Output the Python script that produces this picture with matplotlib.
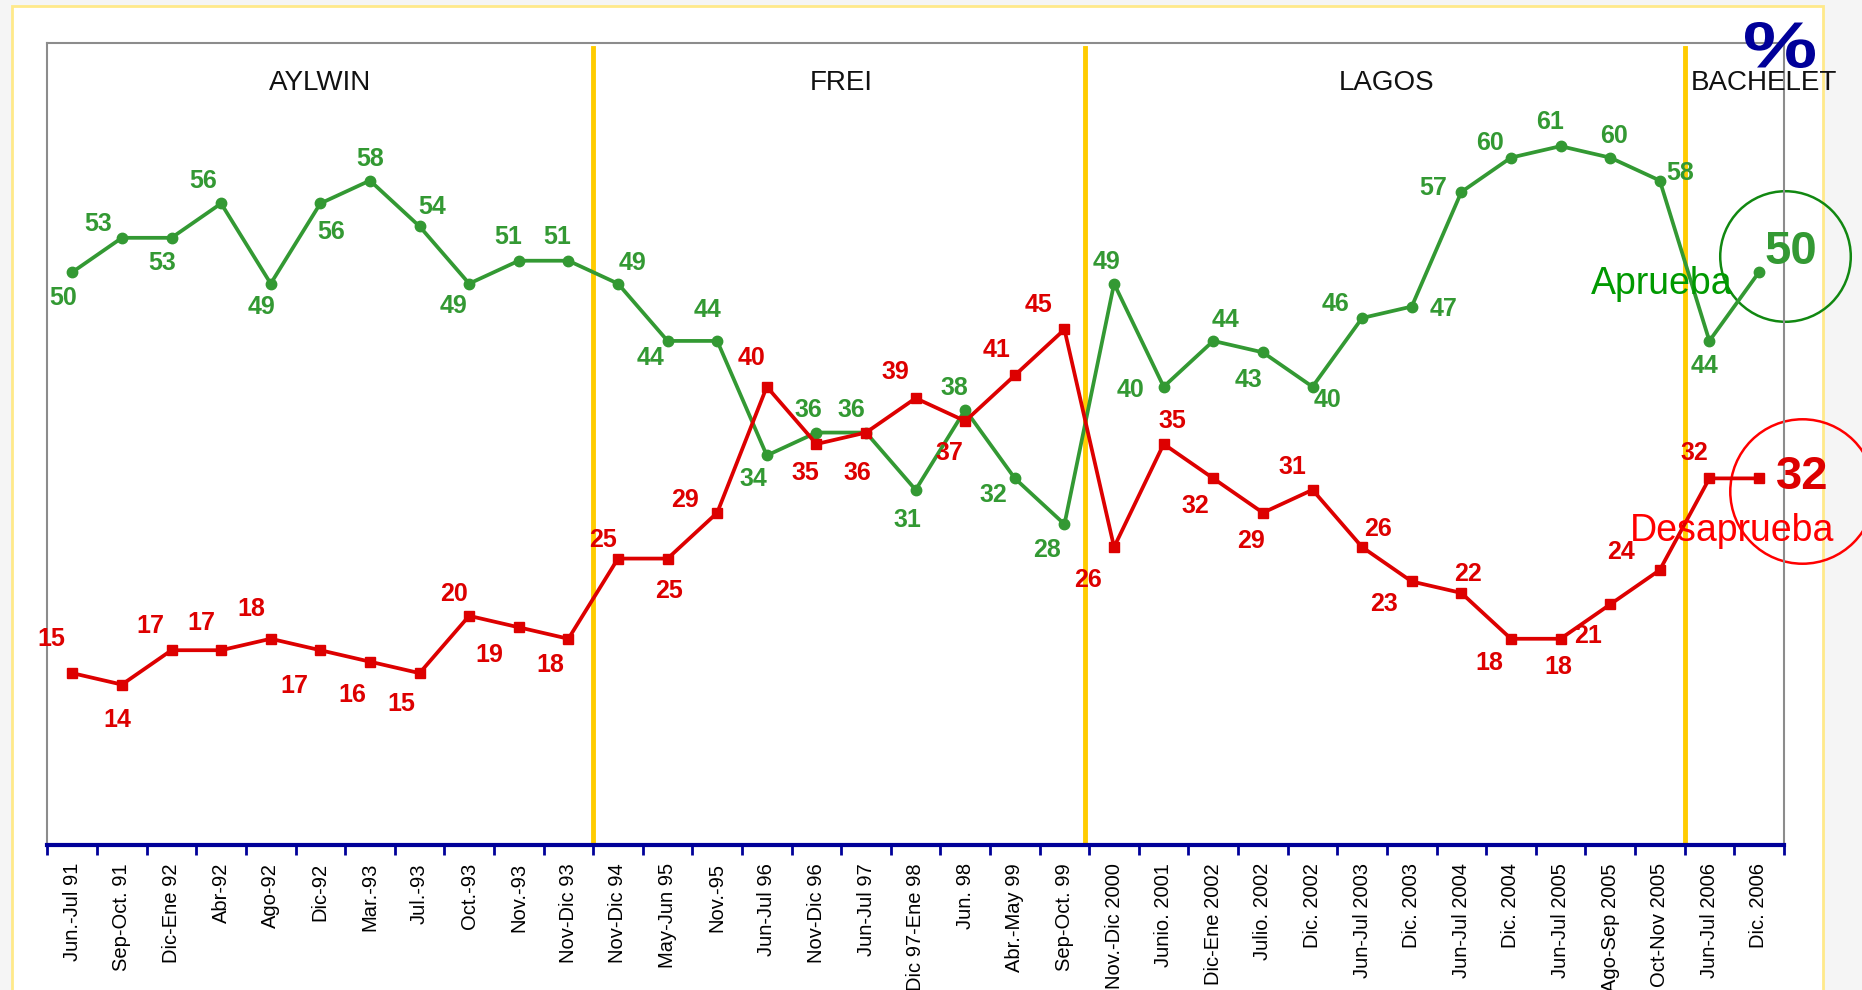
import matplotlib
matplotlib.use("Agg")
import matplotlib.pyplot as plt
from matplotlib.patches import Rectangle, PathPatch
from matplotlib.textpath import TextPath
from matplotlib.font_manager import FontProperties
from matplotlib import transforms
import numpy as np

plt.rcParams['font.family'] = ['Liberation Sans', 'DejaVu Sans']

# survey periods
periods = ["Jun.-Jul 91", "Sep-Oct. 91", "Dic-Ene 92", "Abr-92", "Ago-92", "Dic-92",
           "Mar.-93", "Jul.-93", "Oct.-93", "Nov.-93", "Nov-Dic 93", "Nov-Dic 94",
           "May-Jun 95", "Nov.-95", "Jun-Jul 96", "Nov-Dic 96", "Jun-Jul 97",
           "Dic 97-Ene 98", "Jun. 98", "Abr.-May 99", "Sep-Oct. 99", "Nov.-Dic 2000",
           "Junio. 2001", "Dic-Ene 2002", "Julio. 2002", "Dic. 2002", "Jun-Jul 2003",
           "Dic. 2003", "Jun-Jul 2004", "Dic. 2004", "Jun-Jul 2005", "Ago-Sep 2005",
           "Oct-Nov 2005", "Jun-Jul 2006", "Dic. 2006"]

aprueba = [50, 53, 53, 56, 49, 56, 58, 54, 49, 51, 51, 49, 44, 44, 34, 36, 36, 31, 38,
           32, 28, 49, 40, 44, 43, 40, 46, 47, 57, 60, 61, 60, 58, 44, 50]
desaprueba = [15, 14, 17, 17, 18, 17, 16, 15, 20, 19, 18, 25, 25, 29, 40, 35, 36, 39, 37,
              41, 45, 26, 35, 32, 29, 31, 26, 23, 22, 18, 18, 21, 24, 32, 32]

# presidencies: name and index of first period
gobiernos = ["AYLWIN", "FREI", "LAGOS", "BACHELET"]
inicio_gobierno = [0, 11, 21, 33]

# label offsets (pixels, dx, dy up) for the value labels
off_verde = [(-8, -22), (-20, 12), (-8, -21), (-15, 19), (-8, -20), (9, -24), (0, 18),
             (11, 16), (-13, -19), (-9, 20), (-9, 20), (12, 17), (-14, -14), (-8, 26),
             (-11, -20), (-7, 19), (-12, 19), (-7, -25), (-9, 18), (-18, -14), (-15, -22),
             (-6, 18), (-28, -3), (10, 18), (-12, -23), (13, -11), (-22, 12), (27, -2),
             (-24, 3), (-18, 12), (-9, 20), (3, 18), (17, 6), (-4, -21), None]
off_rojo = [(-18, 29), (-4, -30), (-18, 20), (-17, 23), (-16, 25), (-22, -30), (-15, -28),
            (-15, -26), (-13, 18), (-25, -23), (-15, -22), (-13, 16), (1, -27), (-27, 11),
            (-13, 24), (-9, -24), (-7, -34), (-17, 22), (-13, -27), (-15, 21), (-22, 21),
            (-22, -28), (7, 19), (-15, -23), (-10, -24), (-17, 19), (13, 15), (-23, -19),
            (6, 16), (-18, -20), (-2, -24), (-19, -27), (-33, 15), (-13, 21), None]

verde = '#339933'
rojo = '#dd0000'
sc = 1.1875  # offsets were measured on the shrunk picture

fig = plt.figure(figsize=(18.62, 9.90), dpi=100, facecolor='#f5f5f5')
fig.patches.append(Rectangle((12 / 1862, -0.01), (1823 - 12) / 1862, 1 - 6 / 990 + 0.01,
                             transform=fig.transFigure, facecolor='white',
                             edgecolor='#ffe98a', lw=2, zorder=-10))
ax = fig.add_axes([0.0255, 0.1465, 0.9325, 0.81])
ax.set_facecolor('white')

x = np.arange(len(periods))
ax.plot(x, aprueba, color=verde, lw=2.7, marker='o', ms=7.5, zorder=3)
ax.plot(x, desaprueba, color=rojo, lw=2.7, marker='s', ms=7.5, zorder=3)

for i, v in enumerate(aprueba):
    if off_verde[i] is None:
        continue
    dx, dy = off_verde[i]
    ax.annotate(str(v), (i, v), xytext=(dx * sc, dy * sc), textcoords='offset pixels',
                ha='center', va='center', color=verde, fontsize=18, fontweight='bold')
for i, v in enumerate(desaprueba):
    if off_rojo[i] is None:
        continue
    dx, dy = off_rojo[i]
    ax.annotate(str(v), (i, v), xytext=(dx * sc, dy * sc), textcoords='offset pixels',
                ha='center', va='center', color=rojo, fontsize=18, fontweight='bold')

# last values highlighted
last = len(periods) - 1
tr_g = transforms.offset_copy(ax.transData, fig=fig, x=22 * sc, y=14 * sc, units='dots')
ax.plot([last], [aprueba[last]], marker='o', ms=94, mfc='none', mec='#118811', mew=1.8,
        transform=tr_g, clip_on=False)
tr_r = transforms.offset_copy(ax.transData, fig=fig, x=36 * sc, y=-11 * sc, units='dots')
ax.plot([last], [desaprueba[last]], marker='o', ms=104, mfc='none', mec='#ff0000', mew=1.8,
        transform=tr_r, clip_on=False)
ax.annotate(str(aprueba[last]), (last, aprueba[last]), xytext=(27 * sc, 17 * sc),
            textcoords='offset pixels', ha='center', va='center', color=verde,
            fontsize=34, fontweight='bold', annotation_clip=False)
ax.annotate(str(desaprueba[last]), (last, desaprueba[last]), xytext=(36 * sc, 1 * sc),
            textcoords='offset pixels', ha='center', va='center', color=rojo,
            fontsize=34, fontweight='bold', annotation_clip=False)
ax.annotate("Aprueba", (last, aprueba[last]), xytext=(-82 * sc, -10 * sc),
            textcoords='offset pixels', ha='center', va='center', color='#009900',
            fontsize=27, annotation_clip=False)
ax.annotate("Desaprueba", (last, desaprueba[last]), xytext=(-23 * sc, -44 * sc),
            textcoords='offset pixels', ha='center', va='center', color='#ff0000',
            fontsize=27, annotation_clip=False)

# presidency separators and names
ends = inicio_gobierno[1:] + [len(periods)]
blend = transforms.blended_transform_factory(ax.transData, ax.transAxes)
for name, s, e in zip(gobiernos, inicio_gobierno, ends):
    if s > 0:
        ax.axvline(s - 0.5 - (0.08 if name == "LAGOS" else 0), ymin=0, ymax=0.994,
                   color='#ffcc00', lw=3.5, zorder=2)
    xc = (s + e) / 2 - 0.5
    if name == "BACHELET":
        xc += 0.6
    ax.text(xc, 0.95, name, transform=blend, ha='center', va='center', fontsize=20,
            color='#111111', clip_on=False)

# wide "%" sign in the top right corner (stretched glyph)
tp = TextPath((0, 0), "%", size=1, prop=FontProperties(family='Liberation Sans', weight='bold'))
bb = tp.get_extents()
pct_tr = (transforms.Affine2D()
          .translate(-(bb.x0 + bb.x1) / 2, -(bb.y0 + bb.y1) / 2)
          .scale(70 / bb.width, 46 / bb.height)
          .translate(1780, 990 - 45))
fig.patches.append(PathPatch(tp, transform=pct_tr, facecolor='#000099', edgecolor='none',
                             zorder=5))

ax.set_xlim(-0.5, len(periods) - 0.5)
ax.set_ylim(0, 70)
ax.set_xticks(x)
ax.set_xticklabels(periods, rotation=90, fontsize=14.5)
ax.set_xticks(np.arange(len(periods) + 1) - 0.5, minor=True)
ax.tick_params(axis='x', which='major', length=0, pad=13)
ax.tick_params(axis='x', which='minor', length=7, width=2, color='#000099', direction='out')
ax.set_yticks([])
for s in ['left', 'top', 'right']:
    ax.spines[s].set_color('#8c8c8c')
    ax.spines[s].set_linewidth(1.5)
ax.spines['bottom'].set_color('#000099')
ax.spines['bottom'].set_linewidth(3)

fig.savefig("out.png", dpi=100, facecolor=fig.get_facecolor())
